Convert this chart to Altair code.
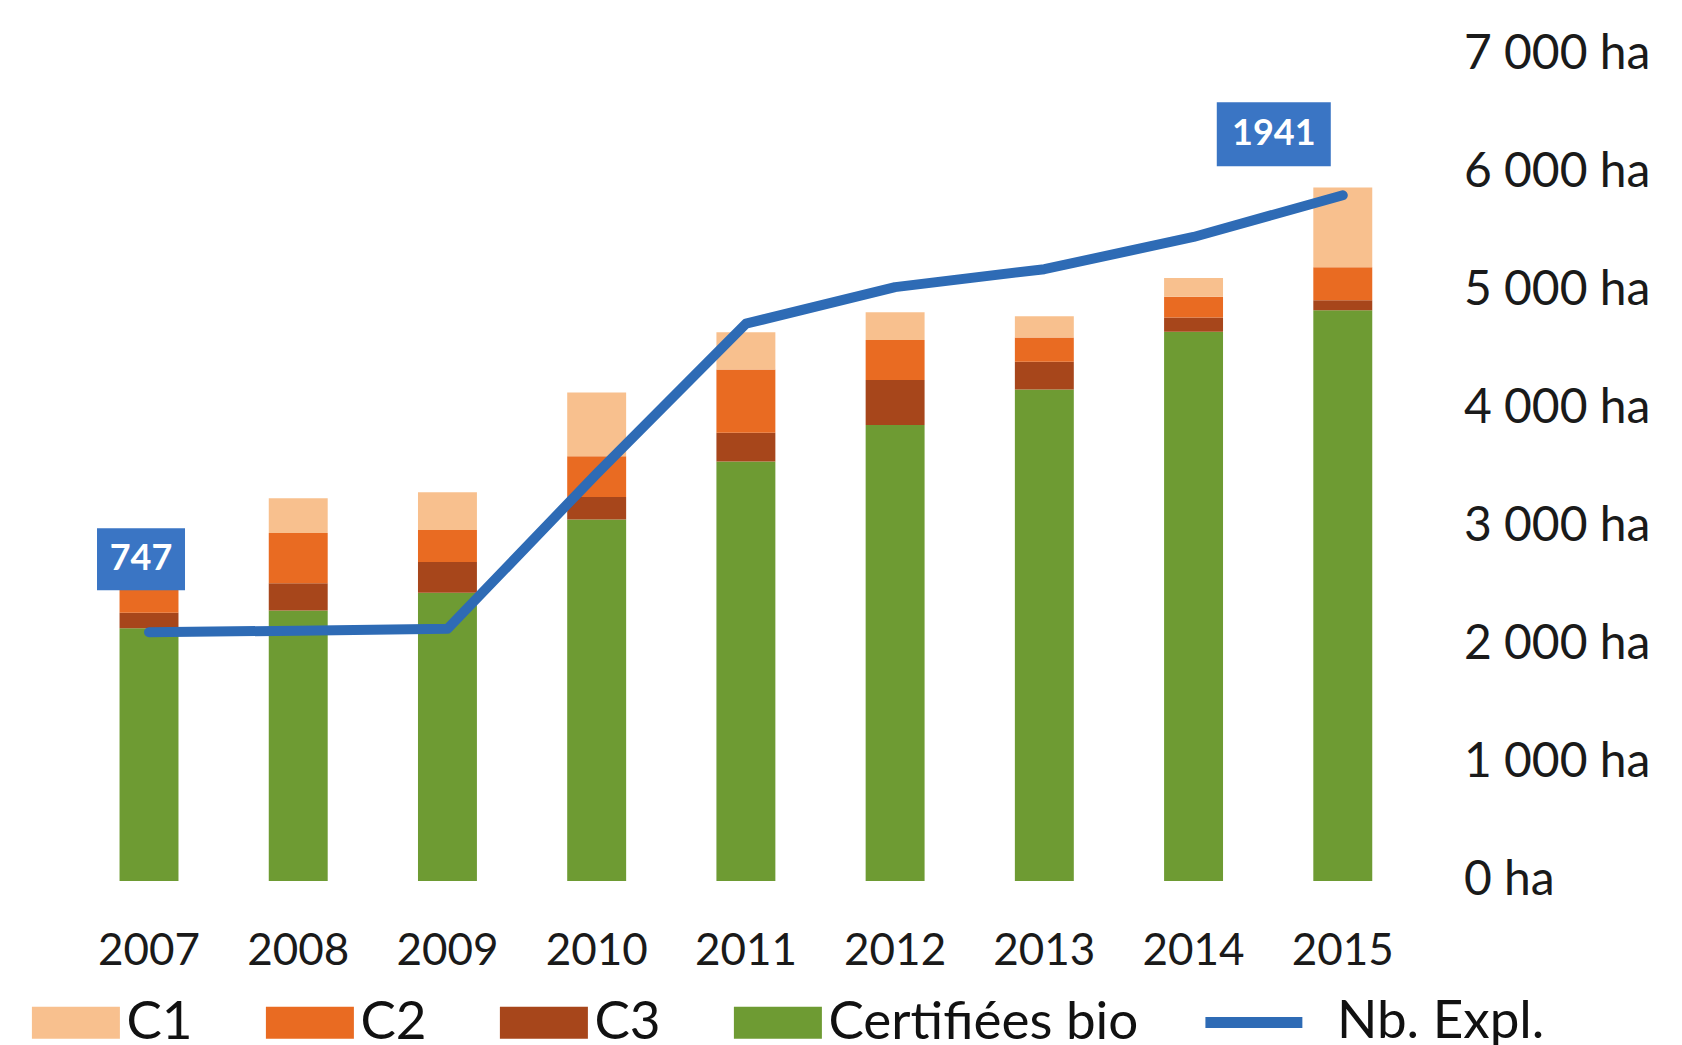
import altair as alt
import pandas as pd

# ---- data ----
years = ["2007", "2008", "2009", "2010", "2011", "2012", "2013", "2014", "2015"]
certifiees = [2140, 2290, 2440, 3060, 3550, 3860, 4160, 4650, 4830]
c3 = [130, 230, 260, 190, 245, 380, 235, 120, 85]
c2 = [195, 425, 270, 345, 535, 340, 205, 175, 280]
c1 = [80, 295, 320, 540, 315, 235, 180, 160, 675]
nb_expl = [747, 751, 756, 1180, 1590, 1690, 1739, 1827, 1941]

categories = ["C1", "C2", "C3", "Certifiées bio"]
cat_colors = ["#F8C08E", "#E96B22", "#A7461B", "#6E9B33"]
line_name = "Nb. Expl."
line_color = "#2E6BB5"
box_color = "#3A75C4"

y_ticks = [0, 1000, 2000, 3000, 4000, 5000, 6000, 7000]
y_tick_labels = ["0 ha", "1 000 ha", "2 000 ha", "3 000 ha", "4 000 ha",
                 "5 000 ha", "6 000 ha", "7 000 ha"]

# ---- tables ----
rows = []
for i, yr in enumerate(years):
    for cat, vals, o in [("Certifiées bio", certifiees, 0), ("C3", c3, 1),
                         ("C2", c2, 2), ("C1", c1, 3)]:
        rows.append({"year": yr, "cat": cat, "value": vals[i], "order": o})
bars_df = pd.DataFrame(rows)

line_df = pd.DataFrame({"year": years, "nb": nb_expl,
                        "series": [line_name] * len(years),
                        "label": [str(v) for v in nb_expl]})
first_df = line_df.iloc[[0]]
last_df = line_df.iloc[[-1]]

label_expr = ""
for v, l in zip(y_ticks, y_tick_labels):
    label_expr += f"datum.value == {v} ? '{l}' : "
label_expr += "''"

FONT = "Lato"
x_enc = alt.X("year:N", sort=years,
              scale=alt.Scale(paddingInner=0.605, paddingOuter=0.3025),
              axis=alt.Axis(title=None, labelFont=FONT, labelFontSize=44,
                            labelColor="#1a1a1a", labelPadding=49, ticks=False,
                            domain=False, labelAngle=0, grid=False))

bars = alt.Chart(bars_df).mark_bar().encode(
    x=x_enc,
    y=alt.Y("value:Q", stack="zero",
            scale=alt.Scale(domain=[0, 7000], nice=False),
            axis=alt.Axis(title=None, orient="right", values=y_ticks,
                          labelExpr=label_expr, labelFont=FONT, labelFontSize=48,
                          labelColor="#1a1a1a", labelAlign="left", labelLimit=0,
                          labelPadding=46, ticks=False, domain=False, grid=False)),
    fill=alt.Fill("cat:N", scale=alt.Scale(domain=categories, range=cat_colors),
                  legend=alt.Legend(title=None, orient="none", legendX=-25, legendY=942,
                                    direction="horizontal", columns=4,
                                    symbolType="M-2.75,-1H2.75V1H-2.75Z",
                                    symbolSize=1024, symbolStrokeWidth=0,
                                    symbolOpacity=1,
                                    labelFont=FONT, labelFontSize=53,
                                    labelColor="#111111", labelOffset=24,
                                    labelLimit=0, columnPadding=72, padding=0)),
    order=alt.Order("order:Q"),
)

y_line = alt.Y("nb:Q", scale=alt.Scale(domain=[67, 2327], nice=False, zero=False),
               axis=None)

line = alt.Chart(line_df).mark_line(strokeWidth=10, strokeCap="round",
                                    strokeJoin="round").encode(
    x=x_enc,
    y=y_line,
    stroke=alt.Stroke("series:N", scale=alt.Scale(domain=[line_name], range=[line_color]),
                      legend=alt.Legend(title=None, orient="none", legendX=1153, legendY=942,
                                        symbolType="M-3.03,0H3.03", symbolSize=1024,
                                        symbolStrokeWidth=11, symbolFillColor="transparent",
                                        labelFont=FONT, labelFontSize=53,
                                        labelColor="#111111", labelOffset=56.5,
                                        labelLimit=0, padding=0)),
)

box1 = alt.Chart(first_df).mark_point(shape="M-1,-0.705H1V0.705H-1Z", size=7744,
                                      filled=True, color=box_color, opacity=1,
                                      strokeWidth=0, xOffset=-8, yOffset=-73).encode(
    x=x_enc, y=y_line)
text1 = alt.Chart(first_df).mark_text(font=FONT, fontSize=36, fontWeight="bold",
                                      color="white", align="center", baseline="middle",
                                      xOffset=-8, yOffset=-73).encode(
    x=x_enc, y=y_line, text="label:N")
box2 = alt.Chart(last_df).mark_point(shape="M-1,-0.561H1V0.561H-1Z", size=12996,
                                     filled=True, color=box_color, opacity=1,
                                     strokeWidth=0, xOffset=-69, yOffset=-61).encode(
    x=x_enc, y=y_line)
text2 = alt.Chart(last_df).mark_text(font=FONT, fontSize=36, fontWeight="bold",
                                     color="white", align="center", baseline="middle",
                                     xOffset=-69, yOffset=-61).encode(
    x=x_enc, y=y_line, text="label:N")

line_layer = alt.layer(line, box1, text1, box2, text2)

chart = alt.layer(bars, line_layer).resolve_scale(y="independent").properties(
    width=1343, height=827,
    autosize=alt.AutoSizeParams(type="none"),
    padding={"left": 66.4, "top": 46, "right": 240, "bottom": 164},
    background="white",
).configure_view(stroke=None)

chart.save("out.html", embed_options={"renderer": "svg", "actions": False})
